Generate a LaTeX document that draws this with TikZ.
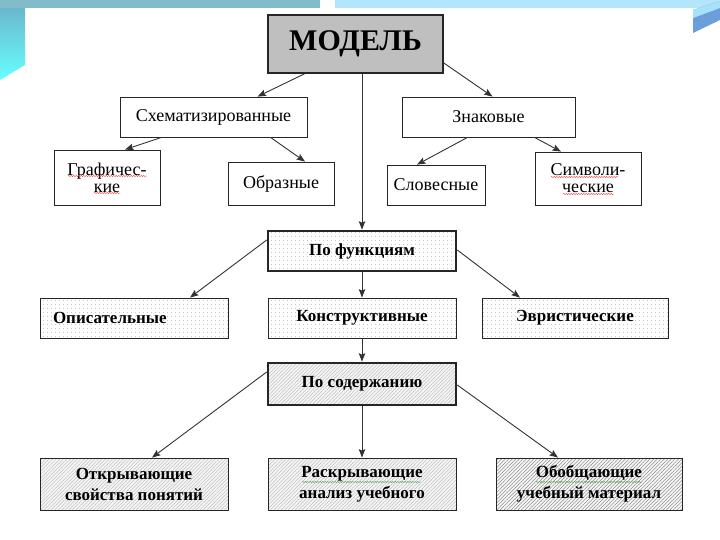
\documentclass[tikz,border=0pt]{standalone}
\usepackage{fontspec}
\setmainfont{Liberation Serif}
\usetikzlibrary{calc,patterns.meta,arrows.meta,decorations.pathmorphing}

\tikzset{
  box/.style={draw=black!85,line width=.8pt,fill=white,inner sep=2pt,align=center,
    font=\fontsize{18}{17}\selectfont},
  dotbox/.style={box,preaction={fill=white},pattern={Dots[distance=4pt,radius=.45pt]},
    pattern color=black!45,font=\fontsize{17}{19}\selectfont\bfseries},
  hatchbox/.style={box,preaction={fill=gray!8},pattern={Lines[angle=45,distance=2.5pt,line width=.35pt]},
    pattern color=black!30,font=\fontsize{17}{21}\selectfont\bfseries},
  arr/.style={-{Stealth[length=8.5pt,width=6.5pt,inset=1.5pt]},line width=.9pt,black!80},
  spell/.style={decorate,decoration={snake,amplitude=.6pt,segment length=2.5pt},line width=.4pt}
}

\begin{document}
\begin{tikzpicture}[x=1pt,y=-1pt]
\useasboundingbox (0,0) rectangle (720,540);
% фон слайда
\fill[white] (0,0) rectangle (720,540);
\shade[top color=blue!25!cyan!45!gray!80,bottom color=cyan!60] (0,0) -- (25,0) -- (25,65) -- (0,80) -- cycle;
\fill[blue!20!cyan!40!gray!70] (0,0) rectangle (320,8);
\fill[cyan!30] (335,0) rectangle (720,8);
\fill[cyan!55!blue!60] (693,10) -- (720,1) -- (720,20) -- (693,33) -- cycle;
\fill[cyan!35] (693,10) -- (720,1) -- (720,8) -- (693,18) -- cycle;

% модель
\node[box,line width=1.6pt,fill=gray!50,minimum width=175,minimum height=58,
  font=\fontsize{30}{32}\selectfont\bfseries] (model) at (355.5,44) {МОДЕЛЬ};

% по форме
\node[box,minimum width=187,minimum height=40] (schem) at (213.5,117) {Схематизированные};
\node[box,minimum width=173,minimum height=40] (znak) at (488.5,117) {Знаковые};
\node[box,minimum width=106,minimum height=55] (graf) at (107,177.5) {Графичес-\\кие};
\node[box,minimum width=106,minimum height=43] (obraz) at (281,183.5) {Образные};
\node[box,minimum width=98,minimum height=40] (slov) at (436,185) {Словесные};
\node[box,minimum width=106,minimum height=53] (simv) at (588,178.5) {Символи-\\ческие};

% по функциям
\node[dotbox,line width=2.6pt,minimum width=188,minimum height=40] (func) at (362,251) {По функциям};
\node[dotbox,minimum width=188,minimum height=40,text width=162,align=left] (opis) at (134,318) {Описательные};
\node[dotbox,minimum width=188,minimum height=40] (konstr) at (362,318) {Конструктивные};
\node[dotbox,minimum width=186,minimum height=40] (evr) at (575,318) {Эвристические};

% по содержанию
\node[hatchbox,line width=2.6pt,minimum width=188,minimum height=42] (soder) at (362,384) {По содержанию};
\node[hatchbox,minimum width=188,minimum height=52] (otkr) at (134,484) {Открывающие\\свойства понятий};
\node[hatchbox,minimum width=188,minimum height=52] (raskr) at (362,484) {Раскрывающие\\анализ учебного};
\node[hatchbox,pattern color=black!55,minimum width=186,minimum height=52] (obob) at (589,484) {Обобщающие\\учебный материал};

% стрелки
\draw[arr] ([xshift=-51]model.south) -- ([xshift=44]schem.north);
\draw[arr] ([yshift=-19]model.east) -- ([xshift=4]znak.north);
\draw[arr] ([xshift=6.5]model.south) -- (func.north);
\draw[arr] ([xshift=-52]schem.south) -- ([xshift=18]graf.north);
\draw[arr] ([xshift=57]schem.south) -- ([xshift=24]obraz.north);
\draw[arr] ([xshift=-21]znak.south) -- ([xshift=-19]slov.north);
\draw[arr] ([xshift=46]znak.south) -- ([xshift=-27]simv.north);
\draw[arr] ([yshift=11]func.west) -- ([xshift=56]opis.north);
\draw[arr] (func.south) -- (konstr.north);
\draw[arr] ([yshift=1]func.east) -- ([xshift=-55]evr.north);
\draw[arr] (konstr.south) -- (soder.north);
\draw[arr] ([yshift=12]soder.west) -- ([xshift=18]otkr.north);
\draw[arr] (soder.south) -- (raskr.north);
\draw[arr] ([yshift=-1]soder.east) -- ([xshift=-31]obob.north);

% подчеркивания орфографии
\draw[spell,red!80] (68,176) -- (147,176);
\draw[spell,red!80] (94,193) -- (120,193);
\draw[spell,red!80] (551,177) -- (618,177);
\draw[spell,red!80] (563,194) -- (614,194);
\draw[spell,green!50!black!70] (302,482) -- (421,482);
\draw[spell,green!50!black!70] (536,482) -- (642,482);
\end{tikzpicture}
\end{document}
